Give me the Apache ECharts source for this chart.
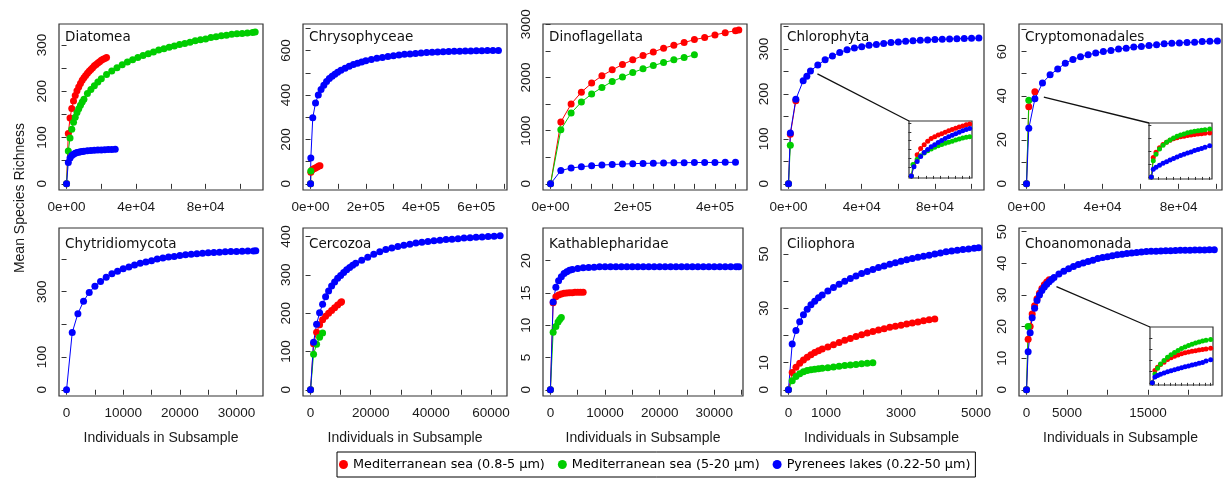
<!DOCTYPE html>
<html>
<head>
<meta charset="utf-8">
<title>Rarefaction curves</title>
<script src="https://cdn.jsdelivr.net/npm/echarts@6/dist/echarts.min.js"></script>
<style>
html, body { margin: 0; padding: 0; background: #fff; }
#main { width: 1232px; height: 481px; }
</style>
</head>
<body>
<div id="main"></div>
<script>
// legend / series names
const groupNames = ['Mediterranean sea (0.8-5 µm)', 'Mediterranean sea (5-20 µm)', 'Pyrenees lakes (0.22-50 µm)']
const groupColors = ['#ff0000', '#00cd00', '#0000ff']

// ---- Diatomea
const diatomeaRed = [[0,0],[1000,109],[2000,142],[3000,163],[4000,179],[5000,191],[6000,201],[7000,209],[8000,217],[9000,224],[10000,229],[11000,234],[12000,239],[13000,243],[14000,247],[15000,251],[16000,255],[17000,258],[18000,261],[19000,264],[20000,267],[21000,269],[22000,271],[23000,273]]
const diatomeaGreen = [[0,0],[1000,71],[2000,99],[3000,118],[4000,133],[5000,144],[6000,154],[7000,162],[8000,170],[9000,177],[10000,183],[12000,195],[14000,204],[16000,212],[18000,220],[20000,227],[23000,236],[26000,244],[29000,251],[32000,257],[35000,263],[38000,268],[41000,273],[44000,277],[47000,281],[50000,285],[53000,289],[56000,292],[59000,295],[62000,298],[65000,301],[68000,303],[71000,306],[74000,309],[77000,311],[80000,313],[83000,316],[86000,318],[89000,320],[92000,321],[95000,323],[98000,324],[101000,325],[104000,326],[107000,327],[108500,328]]
const diatomeaBlue = [[0,0],[1000,46],[2000,56],[3000,61],[4000,64],[5000,66],[6000,67.5],[7000,68.5],[8000,69.5],[9000,70],[10000,70.5],[12000,71.5],[14000,72],[16000,72.5],[18000,73],[20000,73.3],[22000,73.6],[24000,74],[26000,74.2],[28000,74.5]]

// ---- Chrysophyceae
const chrysoRed = [[0,0],[1000,52],[6000,64],[12000,68.5],[18000,71],[24000,75.5],[30000,80],[34000,82]]
const chrysoGreen = [[0,0],[1000,58]]
const chrysoBlue = [[0,0],[1000,116],[8000,298],[18000,364],[28000,400],[38000,425],[48000,444],[58000,461],[68000,474],[78000,485],[88000,494],[98000,502],[110000,511],[125000,521],[140000,530],[155000,537],[170000,543],[185000,549],[200000,554],[220000,560],[240000,565],[260000,569],[280000,573],[300000,577],[320000,580],[340000,583],[360000,585],[380000,587],[400000,589],[420000,591],[440000,592],[460000,594],[480000,595],[500000,596],[520000,597],[540000,597.5],[560000,598],[580000,598.5],[600000,599],[620000,599.5],[640000,600],[660000,600],[680000,600.5]]

// ---- Dinoflagellata
const dinoRed = [[0,0],[25000,1163],[50000,1500],[75000,1725],[100000,1895],[125000,2032],[150000,2144],[175000,2244],[200000,2332],[225000,2413],[250000,2482],[275000,2551],[300000,2608],[325000,2657],[350000,2713],[375000,2751],[400000,2801],[425000,2844],[450000,2882],[458000,2895]]
const dinoGreen = [[0,0],[25000,1017],[50000,1332],[75000,1538],[100000,1689],[125000,1813],[150000,1925],[175000,2008],[200000,2094],[225000,2163],[250000,2225],[275000,2281],[300000,2332],[325000,2375],[350000,2426]]
const dinoBlue = [[0,0],[25000,250],[50000,298],[75000,322],[100000,340],[125000,353],[150000,364],[175000,372],[200000,379],[225000,385],[250000,389],[275000,393],[300000,396],[325000,398],[350000,400],[375000,402],[400000,403],[425000,404],[450000,405]]

// ---- Chlorophyta (+ inset)
const chloroRed = [[0,0],[1000,110],[4000,185]]
const chloroGreen = [[0,0],[1000,86]]
const chloroBlue = [[0,0],[1000,113],[4000,188],[8000,229],[10000,239],[12000,251],[16000,264],[20000,276],[24000,284],[28000,292],[32000,298],[36000,302],[40000,305],[44000,308],[48000,310],[52000,312],[56000,314],[60000,315.5],[64000,317],[68000,318],[72000,319],[76000,320],[80000,321],[84000,321.5],[88000,322],[92000,322.5],[96000,323],[100000,323.5],[104000,324]]
const chloroInsetRed = [[0,0],[40,24],[100,48],[160,62],[220,71],[280,79],[340,85],[400,89],[460,93],[520,96],[580,99.5],[640,102.5],[700,105.5],[760,108.5],[820,111],[880,113.5],[940,116],[1000,118]]
const chloroInsetGreen = [[0,0],[28,26],[100,38],[160,46],[220,52],[280,57],[340,61],[400,65],[460,68.5],[520,71.5],[580,74],[640,76.5],[700,79],[760,81.5],[820,84],[880,86],[940,88],[1000,89]]
const chloroInsetBlue = [[0,0],[45,21],[100,33],[160,44],[220,53],[280,60],[340,66],[400,71],[460,76],[520,80.5],[580,85],[640,89],[700,92.5],[760,96],[820,99.5],[880,102.5],[940,105.5],[1000,108]]

// ---- Cryptomonadales (+ inset)
const cryptoRed = [[0,0],[1200,35],[4400,41.8]]
const cryptoGreen = [[0,0],[1200,38]]
const cryptoBlue = [[0,0],[1200,25.2],[4400,38.6],[8400,45.8],[12400,49.5],[16400,52.1],[20400,54.8],[24400,56.5],[28400,57.7],[32400,58.6],[36400,59.4],[40400,60.1],[44400,60.6],[48400,61.2],[52400,61.6],[56400,62.1],[60400,62.4],[64400,62.8],[68400,63.2],[72400,63.6],[76400,63.9],[80400,64.0],[84400,64.2],[88400,64.3],[92400,64.6],[96400,64.8],[100400,64.9]]
const cryptoInsetRed = [[0,0],[33,15],[80,19],[140,22.5],[200,25],[260,26.8],[320,28.2],[380,29.4],[440,30.2],[500,30.9],[560,31.4],[620,31.9],[680,32.4],[740,32.8],[800,33.1],[860,33.4],[920,33.6],[1000,33.9]]
const cryptoInsetGreen = [[0,0],[33,12.5],[80,17.5],[140,21.5],[200,24.5],[260,26.7],[320,28.5],[380,30],[440,31.3],[500,32.3],[560,33.2],[620,34],[680,34.6],[740,35.2],[800,35.6],[860,36],[920,36.4],[1000,36.9]]
const cryptoInsetBlue = [[0,0],[33,6],[80,7.5],[140,9],[200,10.5],[260,11.8],[320,13.1],[380,14.3],[440,15.4],[500,16.5],[560,17.5],[620,18.4],[680,19.3],[740,20.3],[800,21.2],[860,22],[920,22.9],[1000,24]]

// ---- Chytridiomycota
const chytridBlue = [[0,0],[1000,175],[2000,233],[3000,271],[4000,298],[5000,317],[6000,331],[7000,344],[8000,355],[9000,363],[10000,370],[11000,376],[12000,382],[13000,387],[14000,391],[15000,395],[16000,400],[17000,403],[18000,406],[19000,408],[20000,411],[21000,413],[22000,415],[23000,416],[24000,418],[25000,419],[26000,420],[27000,421],[28000,422],[29000,423],[30000,423.5],[31000,424],[32000,424.5],[33000,425],[33400,425.5]]

// ---- Cercozoa
const cercoRed = [[0,0],[1000,120],[2000,150],[3000,170],[4000,183],[5000,192],[6000,200],[7000,207],[8000,214],[9000,221],[10000,228],[10300,230]]
const cercoGreen = [[0,0],[1000,93],[2000,119],[3000,137],[4000,148]]
const cercoBlue = [[0,0],[1000,124],[2000,171],[3000,201],[4000,223],[5000,243],[6000,258],[7000,271],[8000,281],[9000,291],[10000,298],[11000,306],[12000,313],[13000,319],[14000,325],[15000,330],[17000,338],[19000,346],[21000,354],[23000,360],[25000,366],[27000,370],[29000,374],[31000,377],[33000,380],[35000,383],[37000,385],[39000,387],[41000,389],[43000,390],[45000,392],[47000,393],[49000,394.5],[51000,396],[53000,397],[55000,398],[57000,399],[59000,400],[61000,401],[63000,402]]

// ---- Kathablepharidae
const kathaRed = [[0,0],[500,13.5],[1000,14.4],[1500,14.7],[2000,14.85],[2500,14.95],[3000,15.0],[3500,15.05],[4000,15.05],[4500,15.1],[5000,15.1],[5500,15.1],[6000,15.1]]
const kathaGreen = [[0,0],[500,8.9],[1000,9.8],[1400,10.5],[1700,10.9],[2000,11.2]]
const kathaBlue = [[0,0],[500,13.6],[1000,15.9],[1500,16.9],[2000,17.5],[2500,18.0],[3000,18.3],[3500,18.5],[4000,18.65],[5000,18.8],[6000,18.9],[7000,18.95],[8000,19.0],[9000,19.05],[10000,19.05],[11000,19.05],[12000,19.05],[13000,19.05],[14000,19.05],[15000,19.05],[16000,19.05],[17000,19.05],[18000,19.05],[19000,19.05],[20000,19.05],[21000,19.05],[22000,19.05],[23000,19.05],[24000,19.05],[25000,19.05],[26000,19.05],[27000,19.05],[28000,19.05],[29000,19.05],[30000,19.05],[31000,19.05],[32000,19.05],[33000,19.05],[34000,19.05],[34500,19.05]]

// ---- Ciliophora
const cilioRed = [[0,0],[100,6.4],[200,8.3],[300,9.8],[400,11.0],[500,12.0],[600,12.9],[700,13.7],[800,14.4],[900,15.0],[1050,15.8],[1200,16.6],[1350,17.4],[1500,18.2],[1650,18.9],[1800,19.6],[1950,20.3],[2100,20.9],[2250,21.5],[2400,22.0],[2550,22.5],[2700,23.0],[2850,23.4],[3000,23.8],[3150,24.2],[3300,24.6],[3450,25.0],[3600,25.4],[3750,25.8],[3900,26.1]]
const cilioGreen = [[0,0],[100,3.3],[200,4.9],[300,5.9],[400,6.6],[500,7.1],[600,7.4],[700,7.6],[800,7.75],[900,7.9],[1050,8.15],[1200,8.4],[1350,8.65],[1500,8.9],[1650,9.1],[1800,9.3],[1950,9.55],[2100,9.8],[2250,10.0]]
const cilioBlue = [[0,0],[100,16.9],[200,21.8],[300,25.1],[400,27.6],[500,29.7],[600,31.3],[700,32.6],[800,33.9],[900,34.9],[1050,36.4],[1200,37.7],[1350,38.9],[1500,40.0],[1650,41.0],[1800,41.9],[1950,42.8],[2100,43.6],[2250,44.3],[2400,45.0],[2550,45.6],[2700,46.2],[2850,46.8],[3000,47.3],[3150,47.9],[3300,48.4],[3450,48.8],[3600,49.2],[3750,49.6],[3900,50.0],[4050,50.4],[4200,50.8],[4350,51.1],[4500,51.4],[4650,51.7],[4800,51.9],[4950,52.1],[5070,52.3]]

// ---- Choanomonada (+ inset)
const choanoRed = [[0,0],[200,16],[450,20],[700,24],[1000,26.6],[1300,28.8],[1600,30.5],[1900,32],[2200,33.2],[2500,34.1],[2800,34.8]]
const choanoGreen = [[0,0],[200,20]]
const choanoBlue = [[0,0],[200,12],[450,18],[700,22.8],[1000,25.8],[1300,28.2],[1600,30.0],[1900,31.4],[2200,32.5],[2500,33.4],[2800,34.2],[3100,34.9],[3400,35.5],[4000,36.6],[4600,37.5],[5200,38.3],[5800,39.0],[6400,39.6],[7000,40.1],[7600,40.6],[8200,41.0],[8800,41.5],[9400,41.8],[10000,42.1],[10600,42.4],[11200,42.7],[11800,42.9],[12400,43.1],[13000,43.3],[13600,43.45],[14200,43.6],[14800,43.7],[15400,43.8],[16000,43.85],[16600,43.9],[17200,43.95],[17800,44.0],[18400,44.05],[19000,44.1],[19600,44.1],[20200,44.15],[20800,44.2],[21400,44.2],[22000,44.2],[22600,44.25],[23200,44.3]]
const choanoInsetRed = [[0,0],[44,11],[90,14],[140,16.5],[200,18.5],[260,20.8],[320,22.4],[380,23.8],[440,25],[500,26],[560,26.8],[620,27.5],[680,28.2],[740,28.8],[800,29.3],[860,29.8],[920,30.3],[1000,30.9]]
const choanoInsetGreen = [[0,0],[44,8],[90,13],[140,16.8],[200,20],[260,22.8],[320,25.2],[380,27.2],[440,29],[500,30.6],[560,32.1],[620,33.4],[680,34.6],[740,35.6],[800,36.5],[860,37.3],[920,38],[1000,38.8]]
const choanoInsetBlue = [[0,0],[44,5.2],[90,6.6],[140,7.8],[200,8.9],[260,10],[320,10.9],[380,11.8],[440,12.6],[500,13.5],[560,14.3],[620,15.1],[680,15.9],[740,16.7],[800,17.5],[860,18.3],[920,19.6],[1000,20.6]]

// tick positions and labelled ticks
const ticksX1e5 = [0, 20000, 40000, 60000, 80000, 100000]
const labelsX1e5 = [0, 40000, 80000]
const ticksY300 = [0, 50, 100, 150, 200, 250, 300]
const ticksY350 = [0, 50, 100, 150, 200, 250, 300, 350]
const labelsY300 = [0, 100, 200, 300]
const chrysoTicksX = [0, 100000, 200000, 300000, 400000, 500000, 600000, 700000]
const chrysoLabelsX = [0, 200000, 400000, 600000]
const chrysoTicksY = [0, 100, 200, 300, 400, 500, 600, 700]
const chrysoLabelsY = [0, 200, 400, 600]
const dinoTicksX = [0, 50000, 100000, 150000, 200000, 250000, 300000, 350000, 400000, 450000]
const dinoLabelsX = [0, 200000, 400000]
const dinoTicksY = [0, 500, 1000, 1500, 2000, 2500, 3000]
const dinoLabelsY = [0, 1000, 2000, 3000]
const cryptoTicksY = [0, 10, 20, 30, 40, 50, 60, 70]
const cryptoLabelsY = [0, 20, 40, 60]
const chytridTicksX = [0, 5000, 10000, 15000, 20000, 25000, 30000]
const chytridLabelsX = [0, 10000, 20000, 30000]
const chytridTicksY = [0, 100, 200, 300, 400]
const chytridLabelsY = [0, 100, 300]
const cercoTicksX = [0, 10000, 20000, 30000, 40000, 50000, 60000]
const cercoLabelsX = [0, 20000, 40000, 60000]
const cercoTicksY = [0, 100, 200, 300, 400]
const kathaTicksX = [0, 5000, 10000, 15000, 20000, 25000, 30000, 35000]
const kathaLabelsX = [0, 10000, 20000, 30000]
const kathaTicksY = [0, 5, 10, 15, 20]
const cilioTicksX = [0, 1000, 2000, 3000, 4000, 5000]
const cilioLabelsX = [0, 1000, 3000, 5000]
const cilioTicksY = [0, 10, 20, 30, 40, 50]
const cilioLabelsY = [0, 10, 30, 50]
const choanoTicksX = [0, 5000, 10000, 15000, 20000]
const choanoLabelsX = [0, 5000, 15000]
const choanoTicksY = [0, 10, 20, 30, 40, 50]
const insetTicksX8 = [0, 125, 250, 375, 500, 625, 750, 875, 1000]
const insetTicksX10 = [0, 100, 200, 300, 400, 500, 600, 700, 800, 900, 1000]
const insetTicksY120 = [0, 20, 40, 60, 80, 100, 120]
const insetTicksY40 = [0, 10, 20, 30, 40]

// R style 4e+04
function sci(v) {
    if (v === 0) return '0e+00'
    let e = Math.floor(Math.log10(Math.abs(v)))
    let m = Math.round(v / Math.pow(10, e))
    return m + 'e' + (e < 0 ? '-' : '+') + String(Math.abs(e)).padStart(2, '0')
}
const plain = v => String(v)

// rect = [left, top, width, height]; span = data extent (R adds 4% each side)
const panels = [
    { title: 'Diatomea', rect: [59, 24, 204, 166], xSpan: 108650, ySpan: 332, xTicks: ticksX1e5, xLabels: labelsX1e5, yTicks: ticksY300, yLabels: labelsY300, fmt: sci, data: [diatomeaRed, diatomeaGreen, diatomeaBlue] },
    { title: 'Chrysophyceae', rect: [303, 24, 204, 166], xSpan: 683650, ySpan: 692, xTicks: chrysoTicksX, xLabels: chrysoLabelsX, yTicks: chrysoTicksY, yLabels: chrysoLabelsY, fmt: sci, data: [chrysoRed, chrysoGreen, chrysoBlue] },
    { title: 'Dinoflagellata', rect: [543, 24, 204, 166], xSpan: 459600, ySpan: 2891, xTicks: dinoTicksX, xLabels: dinoLabelsX, yTicks: dinoTicksY, yLabels: dinoLabelsY, fmt: sci, data: [dinoRed, dinoGreen, dinoBlue] },
    { title: 'Chlorophyta', rect: [781, 24, 203, 166], xSpan: 102700, ySpan: 341.7, xTicks: ticksX1e5, xLabels: labelsX1e5, yTicks: ticksY350, yLabels: labelsY300, fmt: sci, data: [chloroRed, chloroGreen, chloroBlue] },
    { title: 'Cryptomonadales', rect: [1019, 24, 203, 166], xSpan: 98850, ySpan: 69.8, xTicks: ticksX1e5, xLabels: labelsX1e5, yTicks: cryptoTicksY, yLabels: cryptoLabelsY, fmt: sci, data: [cryptoRed, cryptoGreen, cryptoBlue] },
    { title: 'Chytridiomycota', rect: [59, 228, 204, 168], xSpan: 33340, ySpan: 476, xTicks: chytridTicksX, xLabels: chytridLabelsX, yTicks: chytridTicksY, yLabels: chytridLabelsY, fmt: plain, data: [null, null, chytridBlue] },
    { title: 'Cercozoa', rect: [303, 228, 204, 168], xSpan: 62770, ySpan: 406, xTicks: cercoTicksX, xLabels: cercoLabelsX, yTicks: cercoTicksY, yLabels: cercoTicksY, fmt: plain, data: [cercoRed, cercoGreen, cercoBlue] },
    { title: 'Kathablepharidae', rect: [543, 228, 200, 168], xSpan: 33900, ySpan: 24.1, xTicks: kathaTicksX, xLabels: kathaLabelsX, yTicks: kathaTicksY, yLabels: kathaTicksY, fmt: plain, data: [kathaRed, kathaGreen, kathaBlue] },
    { title: 'Ciliophora', rect: [781, 228, 201, 168], xSpan: 4960, ySpan: 57.3, xTicks: cilioTicksX, xLabels: cilioLabelsX, yTicks: cilioTicksY, yLabels: cilioLabelsY, fmt: plain, data: [cilioRed, cilioGreen, cilioBlue] },
    { title: 'Choanomonada', rect: [1019, 228, 203, 168], xSpan: 23220, ySpan: 49.2, xTicks: choanoTicksX, xLabels: choanoLabelsX, yTicks: choanoTicksY, yLabels: choanoTicksY, fmt: plain, data: [choanoRed, choanoGreen, choanoBlue] }
]

// zoomed insets: host panel, box, and the data point the pointer starts from
const insets = [
    { host: 3, rect: [909, 121, 63, 57], xSpan: 1000, ySpan: 120, xTicks: insetTicksX8, yTicks: insetTicksY120, from: [15800, 244.6], data: [chloroInsetRed, chloroInsetGreen, chloroInsetBlue] },
    { host: 4, rect: [1149, 123, 63, 56], xSpan: 1000, ySpan: 40, xTicks: insetTicksX8, yTicks: insetTicksY40, from: [9100, 39.4], data: [cryptoInsetRed, cryptoInsetGreen, cryptoInsetBlue] },
    { host: 9, rect: [1150, 327, 63, 58], xSpan: 1000, ySpan: 48, xTicks: insetTicksX10, yTicks: insetTicksY40, from: [3700, 32.6], data: [choanoInsetRed, choanoInsetGreen, choanoInsetBlue] }
]

const tickFont = { fontFamily: 'Liberation Sans, Arial, sans-serif', fontSize: 13.5, color: '#1a1a1a' }
const axisColor = '#333'

let grids = [], xAxes = [], yAxes = [], series = [], titles = []

function addGrid(p, inset, bottomRow) {
    let i = grids.length
    grids.push({
        left: p.rect[0], top: p.rect[1], width: p.rect[2], height: p.rect[3],
        show: true, borderColor: axisColor, borderWidth: 1.2,
        backgroundColor: inset ? '#fff' : 'transparent',
        containLabel: false, outerBoundsMode: 'none'
    })
    xAxes.push({
        type: 'value', gridIndex: i, min: -0.04 * p.xSpan, max: 1.04 * p.xSpan,
        position: 'bottom', offset: inset ? 1 : 2,
        axisLine: { show: false }, splitLine: { show: false },
        axisTick: { show: true, length: inset ? 3 : 5, customValues: p.xTicks, lineStyle: { color: axisColor, width: 1 } },
        axisLabel: { show: !inset, customValues: p.xLabels, formatter: p.fmt, margin: 8, ...tickFont },
        name: bottomRow ? 'Individuals in Subsample' : '',
        nameLocation: 'middle', nameGap: 33,
        nameTextStyle: { fontFamily: 'Liberation Sans, Arial, sans-serif', fontSize: 14, color: '#1a1a1a' }
    })
    yAxes.push({
        type: 'value', gridIndex: i, min: -0.04 * p.ySpan, max: 1.04 * p.ySpan,
        position: 'left', offset: inset ? 1 : 2,
        axisLine: { show: false }, splitLine: { show: false },
        axisTick: { show: true, length: inset ? 3 : 5, customValues: p.yTicks, lineStyle: { color: axisColor, width: 1 } },
        axisLabel: { show: !inset, customValues: p.yLabels, formatter: plain, rotate: 90, margin: 8, ...tickFont }
    })
    p.data.forEach((d, k) => {
        if (!d) return
        series.push({
            type: 'line', name: groupNames[k], xAxisIndex: i, yAxisIndex: i,
            data: d, symbol: 'circle', symbolSize: inset ? 5 : 7,
            itemStyle: { color: groupColors[k], borderWidth: 0 },
            lineStyle: { color: groupColors[k], width: 1 },
            emphasis: { disabled: true }, silent: true, animation: false
        })
    })
    return i
}

panels.forEach((p, n) => {
    addGrid(p, false, n >= 5)
    titles.push({
        text: p.title, left: p.rect[0] + 6, top: p.rect[1] + (n >= 5 ? 9 : 6), padding: 0,
        textStyle: { fontFamily: 'DejaVu Sans', fontSize: 13.5, fontWeight: 'normal', color: '#111' }
    })
})
insets.forEach(s => { s.grid = addGrid(s, true, false) })

const chart = echarts.init(document.getElementById('main'))
chart.setOption({
    animation: false,
    backgroundColor: '#fff',
    title: titles,
    grid: grids,
    xAxis: xAxes,
    yAxis: yAxes,
    series: series,
    legend: {
        data: groupNames, left: 337, top: 452, selectedMode: false,
        icon: 'circle', itemWidth: 9, itemHeight: 9, itemGap: 13,
        padding: [6, 5, 6, 2], borderColor: '#000', borderWidth: 1,
        textStyle: { fontFamily: 'DejaVu Sans', fontSize: 12.8, color: '#000' }
    }
})

// pointer lines from the curve to each inset, plus the shared y title
let graphics = [{
    type: 'text', x: 20, y: 198, rotation: Math.PI / 2,
    style: { text: 'Mean Species Richness', fontFamily: 'Liberation Sans, Arial, sans-serif', fontSize: 14, fill: '#1a1a1a', align: 'center', verticalAlign: 'middle', textAlign: 'center', textVerticalAlign: 'middle' }
}]
insets.forEach(s => {
    let p = chart.convertToPixel({ gridIndex: s.host }, s.from)
    graphics.push({
        type: 'line',
        shape: { x1: p[0], y1: p[1], x2: s.rect[0], y2: s.rect[1] },
        style: { stroke: '#111', lineWidth: 1.3 }
    })
})
chart.setOption({ graphic: graphics })
</script>
</body>
</html>
